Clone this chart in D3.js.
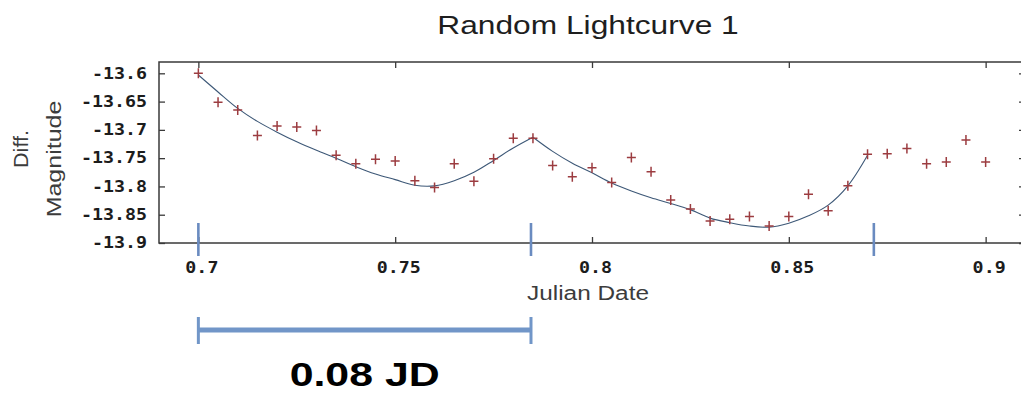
<!DOCTYPE html>
<html>
<head>
<meta charset="utf-8">
<script src="https://cdn.jsdelivr.net/npm/d3@7/dist/d3.min.js"></script>
<style>
  html, body { margin: 0; padding: 0; background: #fff; }
  svg { display: block; }
</style>
</head>
<body>
<script>
// Observation times (Julian Date fraction) and differential magnitudes
const jd = [0.700, 0.705, 0.710, 0.715, 0.720, 0.725, 0.730, 0.735, 0.740, 0.745,
            0.750, 0.755, 0.760, 0.765, 0.770, 0.775, 0.780, 0.785, 0.790, 0.795,
            0.800, 0.805, 0.810, 0.815, 0.820, 0.825, 0.830, 0.835, 0.840, 0.845,
            0.850, 0.855, 0.860, 0.865, 0.870, 0.875, 0.880, 0.885, 0.890, 0.895,
            0.900];
const mag = [-13.600, -13.651, -13.665, -13.710, -13.693, -13.695, -13.701, -13.745, -13.760, -13.752,
             -13.755, -13.790, -13.802, -13.760, -13.791, -13.751, -13.715, -13.715, -13.763, -13.783,
             -13.767, -13.793, -13.749, -13.774, -13.824, -13.840, -13.861, -13.858, -13.853, -13.870,
             -13.853, -13.814, -13.843, -13.799, -13.743, -13.742, -13.733, -13.760, -13.757, -13.718,
             -13.757];

// Fitted light curve, first cycle
const fit1Jd  = [0.700, 0.705, 0.710, 0.715, 0.720, 0.725, 0.730, 0.735, 0.740, 0.745,
                 0.750, 0.755, 0.760, 0.765, 0.770, 0.775, 0.780, 0.785];
const fit1Mag = [-13.603, -13.633, -13.662, -13.685, -13.704, -13.721, -13.736, -13.750, -13.765, -13.778,
                 -13.788, -13.798, -13.799, -13.790, -13.775, -13.754, -13.732, -13.713];
// Fitted light curve, second cycle
const fit2Jd  = [0.785, 0.790, 0.795, 0.800, 0.805, 0.810, 0.815, 0.820, 0.825, 0.830,
                 0.835, 0.840, 0.845, 0.850, 0.855, 0.860, 0.865, 0.870];
const fit2Mag = [-13.713, -13.738, -13.759, -13.776, -13.794, -13.808, -13.820, -13.830, -13.841, -13.856,
                 -13.864, -13.870, -13.872, -13.865, -13.852, -13.833, -13.799, -13.745];

// Cycle boundaries
const periodMarks = [0.7000, 0.7845, 0.8716];

// Axis ticks
const xTicks = [0.70, 0.75, 0.80, 0.85, 0.90];
const xTickLabels = ["0.7", "0.75", "0.8", "0.85", "0.9"];
const yTicks = [-13.60, -13.65, -13.70, -13.75, -13.80, -13.85, -13.90];
const yTickLabels = ["-13.6", "-13.65", "-13.7", "-13.75", "-13.8", "-13.85", "-13.9"];

const W = 1021, H = 394;
const plot = { left: 159, right: 1025, top: 62, bottom: 243 };
const STRETCH = 1.22;   // horizontal widening of all lettering

const svg = d3.select("body").append("svg")
  .attr("width", W).attr("height", H)
  .attr("viewBox", `0 0 ${W} ${H}`);

svg.append("rect").attr("width", W).attr("height", H).attr("fill", "#fff");

const x = d3.scaleLinear().domain([0.69, 0.91]).range([plot.left, plot.right]);
const y = d3.scaleLinear().domain([-13.9, -13.58]).range([plot.bottom, plot.top]);

function widen(sel, factor) {
  sel.each(function () {
    const len = this.getComputedTextLength();
    d3.select(this).attr("textLength", len * factor).attr("lengthAdjust", "spacingAndGlyphs");
  });
}

// Frame
svg.append("rect")
  .attr("x", plot.left).attr("y", plot.top)
  .attr("width", plot.right - plot.left).attr("height", plot.bottom - plot.top)
  .attr("fill", "none").attr("stroke", "#3a3a3a").attr("stroke-width", 1.5);

// Axes with inward ticks on all four sides
const tickFont = g => g.selectAll("text")
  .attr("font-family", "'DejaVu Sans Mono', monospace")
  .attr("font-weight", "bold")
  .attr("font-size", 15)
  .attr("fill", "#1c1c1c");
const tickLines = g => g.selectAll("line").attr("stroke", "#3a3a3a").attr("stroke-width", 1.3);

const gx = svg.append("g").attr("transform", `translate(0,${plot.bottom})`)
  .call(d3.axisBottom(x).tickValues(xTicks).tickSizeInner(-6).tickSizeOuter(0)
        .tickPadding(19).tickFormat((d, i) => xTickLabels[i]));
gx.select(".domain").remove();
gx.call(tickFont).call(tickLines);
gx.selectAll("text").attr("dx", 3);
widen(gx.selectAll("text"), STRETCH);

const gxt = svg.append("g").attr("transform", `translate(0,${plot.top})`)
  .call(d3.axisTop(x).tickValues(xTicks).tickSizeInner(-6).tickSizeOuter(0).tickFormat(""));
gxt.select(".domain").remove();
gxt.call(tickLines);

const gy = svg.append("g").attr("transform", `translate(${plot.left},0)`)
  .call(d3.axisLeft(y).tickValues(yTicks).tickSizeInner(-6).tickSizeOuter(0)
        .tickPadding(12).tickFormat((d, i) => yTickLabels[i]));
gy.select(".domain").remove();
gy.call(tickFont).call(tickLines);
widen(gy.selectAll("text"), STRETCH);

const gyr = svg.append("g").attr("transform", `translate(${plot.right},0)`)
  .call(d3.axisRight(y).tickValues(yTicks).tickSizeInner(-6).tickSizeOuter(0).tickFormat(""));
gyr.select(".domain").remove();
gyr.call(tickLines);

// Fitted curve segments
const fitLine = d3.line().x(d => x(d[0])).y(d => y(d[1])).curve(d3.curveCatmullRom.alpha(0.5));
[[fit1Jd, fit1Mag], [fit2Jd, fit2Mag]].forEach(([xs, ys]) => {
  svg.append("path")
    .datum(d3.zip(xs, ys))
    .attr("d", fitLine)
    .attr("fill", "none")
    .attr("stroke", "#3d5877")
    .attr("stroke-width", 1.1);
});

// Observations as plus markers
const pts = d3.zip(jd, mag);
const pg = svg.append("g").attr("stroke", "#9c3c40").attr("stroke-width", 1.5).attr("fill", "none");
pg.selectAll("path").data(pts).join("path")
  .attr("d", d => {
    const cx = x(d[0]), cy = y(d[1]);
    return `M${cx - 4.5},${cy}H${cx + 4.5}M${cx},${cy - 5}V${cy + 5}`;
  });

// Cycle boundary markers across the bottom edge
svg.append("g").selectAll("line").data(periodMarks).join("line")
  .attr("x1", d => x(d)).attr("x2", d => x(d))
  .attr("y1", 223).attr("y2", 256)
  .attr("stroke", "#6a8bc0").attr("stroke-width", 2.6);

// Period scale bar
const period = periodMarks[1] - periodMarks[0];
const bx0 = x(periodMarks[0]), bx1 = x(periodMarks[0] + period);
const barY = 330;
const bar = svg.append("g").attr("stroke", "#7196c8");
bar.append("line").attr("x1", bx0).attr("x2", bx1).attr("y1", barY).attr("y2", barY).attr("stroke-width", 5);
bar.selectAll("line.cap").data([bx0, bx1]).join("line").attr("class", "cap")
  .attr("x1", d => d).attr("x2", d => d).attr("y1", barY - 13).attr("y2", barY + 14)
  .attr("stroke-width", 3);

const periodText = svg.append("text")
  .attr("x", (bx0 + bx1) / 2).attr("y", 386)
  .attr("text-anchor", "middle")
  .attr("font-family", "'Liberation Sans', Arial, sans-serif")
  .attr("font-weight", "bold").attr("font-size", 34).attr("fill", "#000")
  .text(d3.format(".2f")(period) + " JD");
widen(periodText, 1.26);

// Title
const title = svg.append("text")
  .attr("x", 588).attr("y", 34).attr("text-anchor", "middle")
  .attr("font-family", "'Liberation Sans', Arial, sans-serif")
  .attr("font-size", 26).attr("fill", "#1e1e1e")
  .text("Random Lightcurve 1");
widen(title, STRETCH);

// Axis titles
const xTitle = svg.append("text")
  .attr("x", 588).attr("y", 300).attr("text-anchor", "middle")
  .attr("font-family", "'Liberation Sans', Arial, sans-serif")
  .attr("font-size", 20).attr("fill", "#3c3c3c")
  .text("Julian Date");
widen(xTitle, STRETCH);

const yTitle1 = svg.append("text")
  .attr("transform", "translate(28,149) rotate(-90)").attr("text-anchor", "middle")
  .attr("font-family", "'Liberation Sans', Arial, sans-serif")
  .attr("font-size", 20).attr("fill", "#3c3c3c")
  .text("Diff.");
widen(yTitle1, 1.08);

const yTitle2 = svg.append("text")
  .attr("transform", "translate(61,159) rotate(-90)").attr("text-anchor", "middle")
  .attr("font-family", "'Liberation Sans', Arial, sans-serif")
  .attr("font-size", 20).attr("fill", "#3c3c3c")
  .text("Magnitude");
widen(yTitle2, 1.25);
</script>
</body>
</html>
